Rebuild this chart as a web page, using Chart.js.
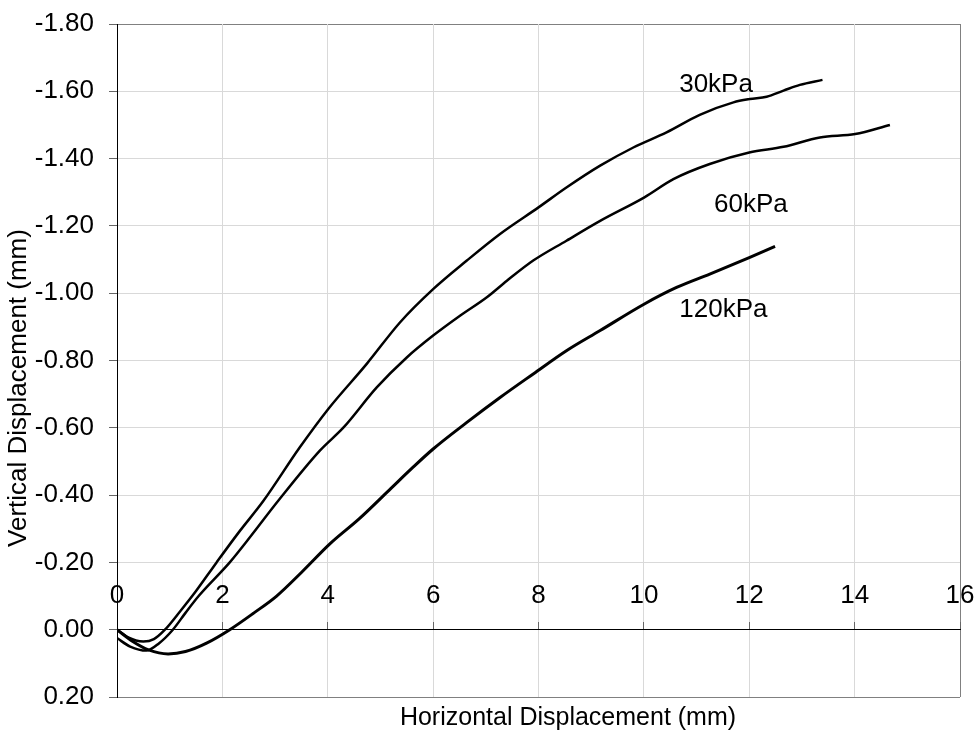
<!DOCTYPE html>
<html><head><meta charset="utf-8">
<script src="https://cdn.jsdelivr.net/npm/chart.js@4/dist/chart.umd.min.js"></script>
<style>html,body{margin:0;padding:0;background:#fff;} canvas{display:block;}</style>
</head><body>
<canvas id="c" width="979" height="736" style="width:979px;height:736px"></canvas>
<script>
// ---- data ----
const xTickValues = [0, 2, 4, 6, 8, 10, 12, 14, 16];
const yTickValues = [-1.8, -1.6, -1.4, -1.2, -1.0, -0.8, -0.6, -0.4, -0.2, 0.0, 0.2];

const x30 = [0, 0.2, 0.5, 0.7, 0.91, 1.2, 1.5, 1.89, 2.3, 2.78, 3.47, 4.01, 4.74, 5.37, 6.0, 6.64, 7.27, 8.0, 8.53, 9.17, 9.8, 10.43, 11.06, 11.7, 12.01, 12.33, 12.65, 12.96, 13.39];
const y30 = [0, 0.022, 0.035, 0.028, 0, -0.055, -0.115, -0.2, -0.287, -0.383, -0.542, -0.656, -0.79, -0.913, -1.012, -1.097, -1.176, -1.255, -1.314, -1.379, -1.433, -1.478, -1.53, -1.567, -1.577, -1.584, -1.602, -1.619, -1.634];

const x60 = [0, 0.25, 0.56, 0.8, 1.06, 1.3, 1.55, 2.14, 2.5, 3.06, 3.85, 4.3, 4.93, 5.5, 6.0, 6.51, 7.02, 7.4, 7.9, 8.53, 9.17, 10.01, 10.56, 11.25, 12.0, 12.65, 13.34, 14.01, 14.67];
const y60 = [0.025, 0.05, 0.062, 0.04, 0, -0.05, -0.1, -0.2, -0.27, -0.383, -0.532, -0.601, -0.72, -0.809, -0.874, -0.933, -0.988, -1.037, -1.097, -1.156, -1.215, -1.285, -1.339, -1.384, -1.418, -1.435, -1.463, -1.473, -1.5];

const x120 = [0, 0.3, 0.6, 0.97, 1.3, 1.7, 2.14, 2.6, 3.03, 3.5, 4.04, 4.6, 5.2, 5.6, 6.0, 6.64, 7.27, 7.9, 8.53, 9.17, 10.01, 10.62, 11.25, 12.0, 12.49];
const y120 = [0, 0.035, 0.06, 0.072, 0.065, 0.04, 0, -0.05, -0.1, -0.17, -0.255, -0.33, -0.42, -0.48, -0.537, -0.616, -0.69, -0.76, -0.829, -0.889, -0.968, -1.017, -1.057, -1.106, -1.139];

const seriesNames = ['30kPa', '60kPa', '120kPa'];
const labelX = [11.37, 12.03, 11.51];
const labelY = [-1.62, -1.263, -0.951];
const xTitle = 'Horizontal Displacement (mm)';
const yTitle = 'Vertical Displacement (mm)';

// ---- chart ----
const FONT = '"Liberation Sans", Arial, sans-serif';
const pairs = (xs, ys) => xs.map((v, i) => ({x: v, y: ys[i]}));

const overlay = {
  id: 'overlay',
  afterDatasetsDraw(chart) {
    const {ctx, scales: {x, y}} = chart;
    ctx.save();
    ctx.fillStyle = '#000';
    ctx.textAlign = 'center';
    ctx.textBaseline = 'middle';
    ctx.font = '26px ' + FONT;
    seriesNames.forEach((t, i) => {
      ctx.fillText(t, x.getPixelForValue(labelX[i]), y.getPixelForValue(labelY[i]));
    });
    ctx.font = '25px ' + FONT;
    ctx.fillText(xTitle, 568, 718);
    ctx.font = '26px ' + FONT;
    ctx.translate(19, 388);
    ctx.rotate(-Math.PI / 2);
    ctx.fillText(yTitle, 0, 0);
    ctx.restore();
  }
};

const lineDs = (label, xs, ys, w) => ({
  label, data: pairs(xs, ys),
  borderColor: '#000', backgroundColor: '#000', borderWidth: w,
  pointRadius: 0, fill: false, cubicInterpolationMode: 'monotone'
});

const zeroPad = s => { s.paddingTop = 0; s.paddingBottom = 0; s.paddingLeft = 0; s.paddingRight = 0; };

new Chart(document.getElementById('c'), {
  type: 'line',
  data: {
    datasets: [
      lineDs(seriesNames[0], x30, y30, 2.5),
      lineDs(seriesNames[1], x60, y60, 2.5),
      lineDs(seriesNames[2], x120, y120, 3)
    ]
  },
  options: {
    responsive: false,
    devicePixelRatio: 1,
    animation: false,
    layout: {padding: {top: 24, right: 19, bottom: 39, left: 0}},
    plugins: {legend: {display: false}, tooltip: {enabled: false}},
    scales: {
      y: {
        type: 'linear', position: 'left', reverse: true,
        min: yTickValues[0], max: yTickValues[yTickValues.length - 1],
        afterBuildTicks: s => { s.ticks = yTickValues.map(v => ({value: v})); },
        afterFit: s => { s.width = 117; zeroPad(s); },
        ticks: {
          font: {family: FONT, size: 26}, color: '#000', padding: 15,
          callback: v => (Math.abs(v) < 1e-9 ? 0 : v).toFixed(2)
        },
        grid: {
          color: c => (c.tick && (Math.abs(c.tick.value - yTickValues[0]) < 1e-9 || Math.abs(c.tick.value - yTickValues[yTickValues.length - 1]) < 1e-9)) ? '#808080' : '#d9d9d9',
          lineWidth: 1, tickLength: 8, tickColor: '#666', drawTicks: true
        },
        border: {display: true, color: '#000', width: 1}
      },
      x: {
        type: 'linear', position: {y: 0},
        min: xTickValues[0], max: xTickValues[xTickValues.length - 1],
        afterBuildTicks: s => { s.ticks = xTickValues.map(v => ({value: v})); },
        afterFit: s => { zeroPad(s); },
        ticks: {
          font: {family: FONT, size: 26}, color: '#000', padding: -41,
          maxRotation: 0, autoSkip: false,
          callback: v => String(v)
        },
        grid: {
          color: c => (c.tick && c.tick.value === xTickValues[xTickValues.length - 1]) ? '#808080' : '#d9d9d9',
          lineWidth: 1, tickLength: -8, tickColor: '#666', drawTicks: true
        },
        border: {display: true, color: '#000', width: 1}
      }
    }
  },
  plugins: [overlay]
});
</script>
</body></html>
